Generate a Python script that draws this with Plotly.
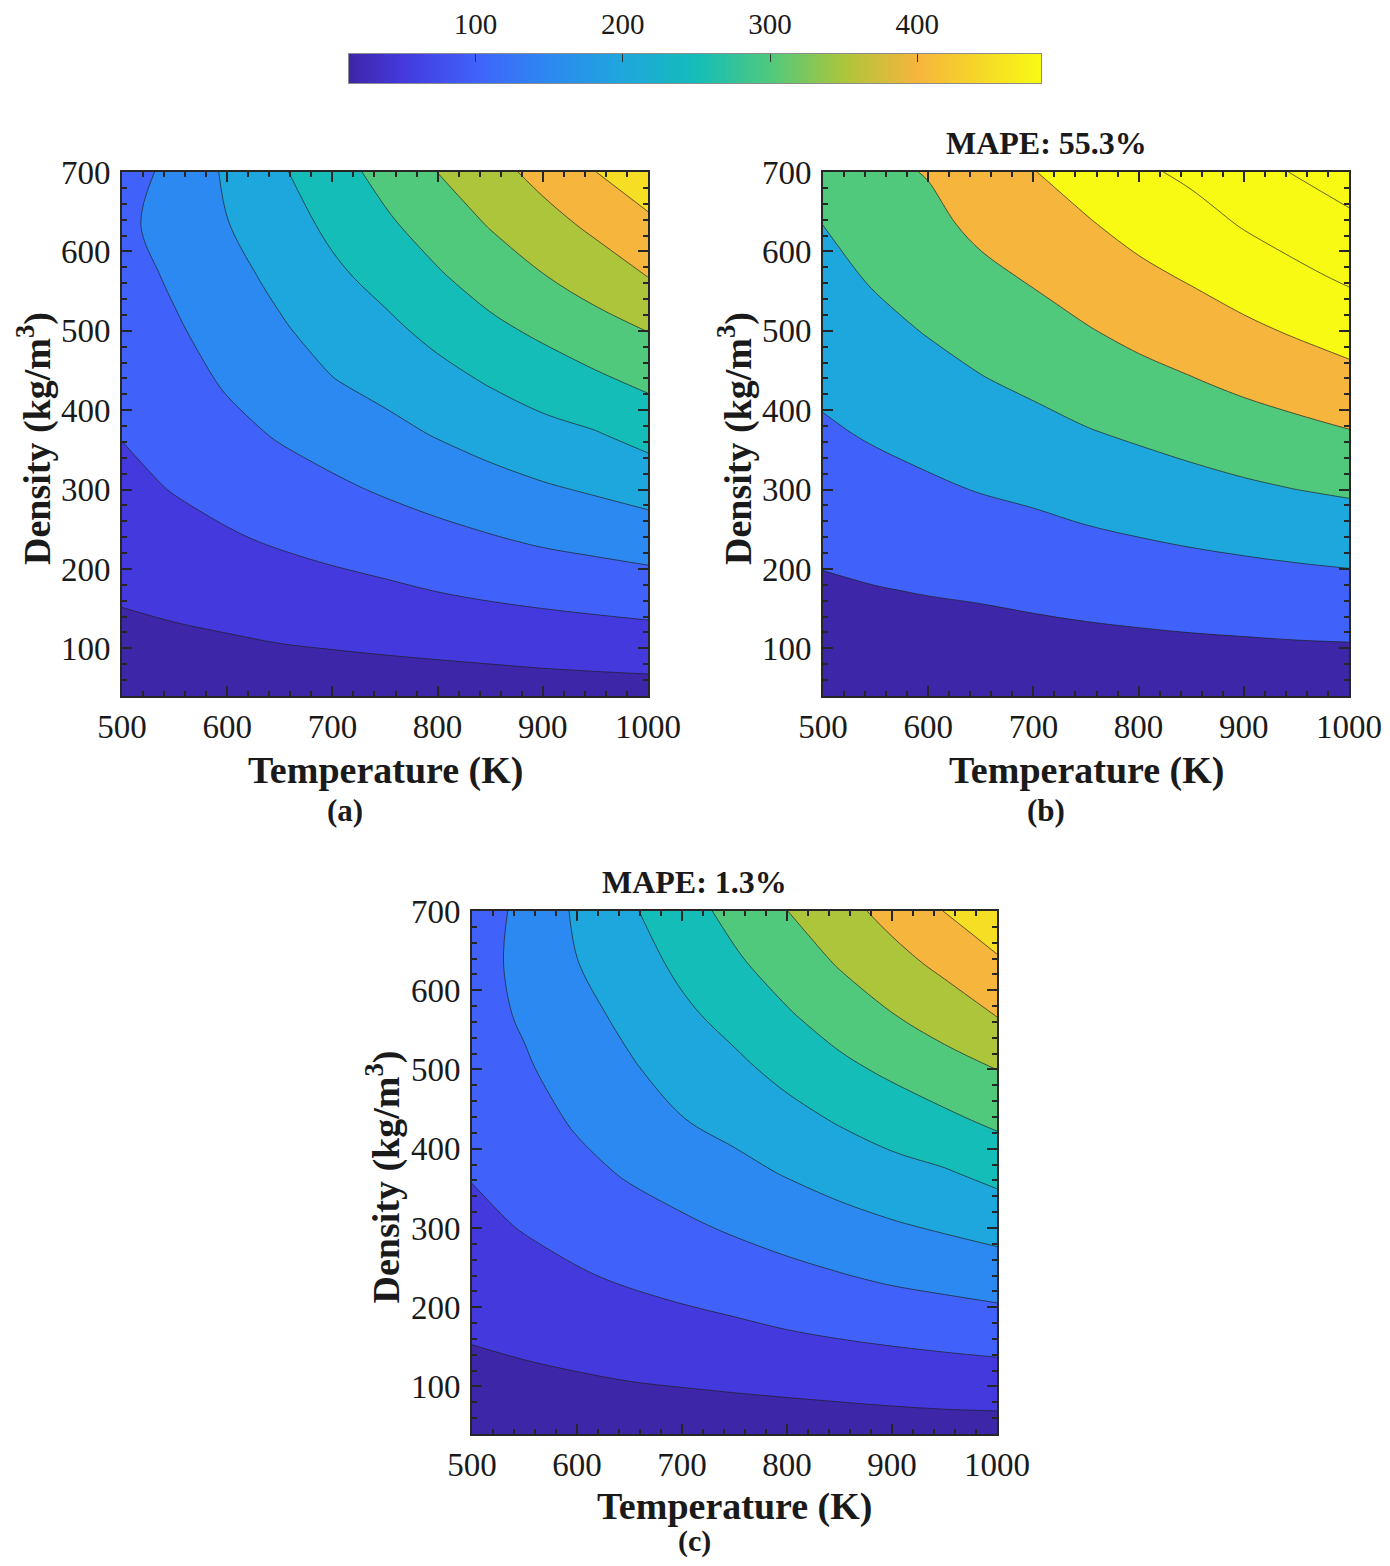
import plotly.graph_objects as go

# ---------------- data ----------------
T = [500, 550, 600, 650, 700, 750, 800, 850, 900, 950, 1000]          # K
RHO = [40, 106, 172, 238, 304, 370, 436, 502, 568, 634, 700]         # kg/m3

# panel (a): rows follow RHO, columns follow T
Z_A = [
    [14, 15.3, 17, 18.9, 20.4, 22, 23.3, 24.7, 26.7, 28.2, 29.4],
    [37, 41, 45, 49.9, 53.8, 57.8, 61.8, 66.2, 70.7, 74.6, 78.4],
    [55.8, 63, 70.3, 78.2, 85.6, 92.2, 100.5, 108.1, 114.5, 120.5, 126.4],
    [71.6, 83.9, 95.1, 105.6, 115.1, 125, 136, 146.5, 157.1, 165.1, 173.9],
    [87.5, 103.2, 116.4, 130.5, 142.9, 156.8, 170.2, 183.7, 196.4, 207.7, 221.1],
    [102, 117, 136.7, 154.3, 170.4, 186.5, 203.2, 219.3, 234.9, 247, 266.4],
    [111.5, 130.9, 155.1, 174.4, 197.9, 213.8, 233.8, 253.8, 272.7, 290.7, 309.6],
    [121, 144.7, 169.6, 194.5, 219.3, 239.2, 264.2, 289.2, 310.2, 332.5, 352.2],
    [130.5, 157, 184.1, 211.7, 240.2, 265.3, 294.5, 321.9, 347.7, 372.1, 400.4],
    [140, 168, 198.7, 227.9, 260.4, 291.9, 322.5, 353.1, 382, 410.7, 440.2],
    [137, 158, 208, 244, 280, 315.5, 350.5, 382.5, 415.5, 449.5, 480.5],
]

# panel (b)
Z_B = [
    [20, 22.3, 24, 25.3, 27.4, 29.4, 31.3, 33, 34.5, 36, 37],
    [53.4, 59, 63.7, 67, 72.6, 78, 82.8, 87.6, 91.4, 95.5, 98.1],
    [86.8, 95.9, 103.6, 110.3, 120, 130.3, 139.3, 148.1, 155.4, 162.2, 168.1],
    [120.4, 134, 146.3, 158.8, 170.8, 185.7, 198.2, 210.3, 221.4, 231.9, 241.4],
    [154.1, 172.2, 189, 206.6, 220.7, 239.5, 255.2, 272, 288.8, 304.2, 317.2],
    [187.8, 209.2, 229, 250.3, 269.6, 292.7, 312.3, 333.1, 354.7, 373.7, 393.1],
    [217.6, 242.9, 268, 294, 317.6, 344.2, 370.2, 393.9, 419.6, 443.2, 468.2],
    [245.2, 276.5, 306.3, 336.5, 364.1, 395.3, 425.6, 452.4, 482.8, 512.2, 542.2],
    [272.8, 310.2, 341, 378.8, 409.9, 443.5, 478.4, 509.8, 544.9, 579.6, 613.9],
    [300.4, 343.9, 375.8, 421.2, 453.4, 491.3, 531.2, 563.9, 606.5, 643.4, 679.2],
    [328, 377.6, 405, 463.5, 497, 539, 584, 618, 668, 705.7, 744.6],
]

# panel (c)
Z_C = [
    [14, 15.5, 17.2, 19, 20.6, 22.2, 23.5, 24.9, 26.8, 28.3, 28.7],
    [36.8, 40.8, 45.2, 49.8, 53.6, 57.5, 61.5, 65.8, 70.2, 74, 77.1],
    [55.5, 62.8, 70, 78, 85.3, 92, 100.2, 107.6, 114, 120, 125.9],
    [71.8, 84, 95.3, 105.8, 115.4, 125.3, 136.2, 146.6, 157, 165, 173.4],
    [88.5, 103.5, 116.8, 131, 143.4, 157.2, 170.6, 184, 196.2, 207.2, 219],
    [103, 118, 137.5, 155, 171, 187, 203.5, 219.5, 234.5, 246, 264],
    [113, 131.5, 155.5, 175, 198.4, 214.3, 234.2, 254, 272.4, 290, 309.5],
    [122.5, 145, 170, 195, 219.8, 239.8, 264.6, 289.4, 310.3, 332, 351.5],
    [131.5, 155.5, 184.2, 212, 240.5, 265.8, 295, 322.3, 348, 372, 401.3],
    [135, 160, 199, 228.2, 260.6, 292.3, 323, 353.8, 383, 412, 442.3],
    [133, 158, 207.5, 243.5, 279.5, 315, 349.5, 382.5, 416, 451, 486],
]

LEVELS_AC = [50, 450, 50]      # start, end, step
LEVELS_B = [100, 700, 100]

# fill colour of each band (below first level, then one per level)
BANDS_AC = ["#3e26a8", "#4439dd", "#4062fa", "#2c89f1", "#1ea7dc",
            "#14bdb8", "#50c97d", "#adc53b", "#f6b53c", "#f5de23"]
BANDS_B = ["#3e26a8", "#4062fa", "#1ea7dc", "#50c97d", "#f6b53c",
           "#f9fa14", "#f9fa14", "#f9fa14"]

CB_RANGE = [14, 484]
CB_VALUES = [14, 50, 100, 150, 200, 250, 300, 350, 400, 450, 484]
CB_COLORS = ["#3e26a8", "#4439dd", "#4062fa", "#2c89f1", "#1ea7dc",
             "#14bdb8", "#50c97d", "#adc53b", "#f6b53c", "#f5de23", "#f9fa14"]
CB_TICKS = [100, 200, 300, 400]

X_TICKS = [500, 600, 700, 800, 900, 1000]
Y_TICKS = [100, 200, 300, 400, 500, 600, 700]
X_RANGE = [500, 1000]
Y_RANGE = [40, 700]

TITLES = {"b": "MAPE: 55.3%", "c": "MAPE: 1.3%"}

# ---------------- figure ----------------
# the page body adds an 8 px margin, so the figure is 16 px smaller
PAGE_MARGIN = 8
W, H = 1390 - 2 * PAGE_MARGIN, 1566 - 2 * PAGE_MARGIN
SERIF = "Liberation Serif"
DARK = "#262626"


def px(x):
    return (x - PAGE_MARGIN) / W


def py(y):
    return 1 - (y - PAGE_MARGIN) / H


def stepped(colors):
    n = len(colors) - 1
    return [[i / n, c] for i, c in enumerate(colors)]


def contour(z, lv, bands, xa, ya):
    return go.Contour(
        x=T, y=RHO, z=z, xaxis=xa, yaxis=ya,
        contours=dict(start=lv[0], end=lv[1], size=lv[2], coloring="fill"),
        colorscale=stepped(bands), showscale=False,
        line=dict(color="rgba(30,30,30,0.85)", width=0.8, smoothing=1),
        hoverinfo="skip",
    )


fig = go.Figure()
fig.add_trace(contour(Z_A, LEVELS_AC, BANDS_AC, "x", "y"))
fig.add_trace(contour(Z_B, LEVELS_B, BANDS_B, "x2", "y2"))
fig.add_trace(contour(Z_C, LEVELS_AC, BANDS_AC, "x3", "y3"))

# colour bar drawn as a smooth heatmap strip on its own axis
cb_scale = [[(v - CB_RANGE[0]) / (CB_RANGE[1] - CB_RANGE[0]), c]
            for v, c in zip(CB_VALUES, CB_COLORS)]
fig.add_trace(go.Heatmap(
    x=CB_RANGE, y=[0, 1], z=[CB_RANGE, CB_RANGE], zsmooth="best",
    colorscale=cb_scale, zmin=CB_RANGE[0], zmax=CB_RANGE[1],
    showscale=False, xaxis="x4", yaxis="y4", hoverinfo="skip",
))


def axis(domain, anchor, rng, tickvals, standoff):
    return dict(
        domain=domain, anchor=anchor, range=rng, automargin=False,
        tickmode="array", tickvals=tickvals,
        ticks="inside", ticklen=10, tickwidth=2, tickcolor=DARK,
        minor=dict(tickmode="linear", tick0=0, dtick=20, ticks="inside",
                   ticklen=5, tickwidth=1.5, tickcolor=DARK, showgrid=False),
        showline=True, linewidth=2, linecolor=DARK, mirror="ticks",
        showgrid=False, zeroline=False,
        tickfont=dict(family=SERIF, size=33, color="#1a1a1a"),
        ticklabelstandoff=standoff, ticklabeloverflow="allow",
    )


panels = {
    "a": dict(x=(122, 648), y=(172, 696)),
    "b": dict(x=(823, 1349), y=(172, 696)),
    "c": dict(x=(472, 997), y=(911, 1434)),
}
layout_axes = {}
for i, key in enumerate(["a", "b", "c"], start=1):
    p = panels[key]
    sx = "" if i == 1 else str(i)
    layout_axes["xaxis" + sx] = axis([px(p["x"][0]), px(p["x"][1])], "y" + sx,
                                     X_RANGE, X_TICKS, 0)
    layout_axes["yaxis" + sx] = axis([py(p["y"][1]), py(p["y"][0])], "x" + sx,
                                     Y_RANGE, Y_TICKS, 3)

layout_axes["xaxis4"] = dict(
    domain=[px(349), px(1041)], anchor="y4", range=CB_RANGE, side="top",
    automargin=False,
    tickmode="array", tickvals=CB_TICKS, ticks="inside", ticklen=8,
    tickwidth=1.2, tickcolor="#333", showline=True, linewidth=1,
    linecolor="#8c8c8c", mirror=True, showgrid=False, zeroline=False,
    tickfont=dict(family=SERIF, size=29, color="#1a1a1a"),
    ticklabelstandoff=7,
)
layout_axes["yaxis4"] = dict(
    domain=[py(83), py(54)], anchor="x4", range=[0, 1], automargin=False,
    showticklabels=False, ticks="", showline=True, linewidth=1,
    linecolor="#8c8c8c", mirror=True, showgrid=False, zeroline=False,
)

ann = []
bold = dict(family=SERIF, color="#1a1a1a")
label_y = {"a": 810, "b": 810, "c": 1541}
label_size = {"a": 31, "b": 31, "c": 30}
xtitle_y = {"a": 770, "b": 770, "c": 1506}
for key in ["a", "b", "c"]:
    p = panels[key]
    cx = (p["x"][0] + p["x"][1]) / 2
    top, bot = p["y"]
    ann.append(dict(text="<b>Temperature (K)</b>", x=px(cx), y=py(xtitle_y[key]),
                    xref="paper", yref="paper", showarrow=False,
                    xanchor="center", yanchor="middle",
                    font=dict(size=38, **bold)))
    ann.append(dict(text="<b>Density (kg/m<sup>3</sup>)</b>",
                    x=px(p["x"][0] - 88), y=py((top + bot) / 2 + 5),
                    xref="paper", yref="paper", showarrow=False,
                    textangle=-90, xanchor="center", yanchor="middle",
                    font=dict(size=38, **bold)))
    ann.append(dict(text="<b>(%s)</b>" % key, x=px(cx - 40), y=py(label_y[key]),
                    xref="paper", yref="paper", showarrow=False,
                    xanchor="center", yanchor="middle",
                    font=dict(size=label_size[key], **bold)))
    if key in TITLES:
        ann.append(dict(text="<b>%s</b>" % TITLES[key], x=px(cx - 40),
                        y=py(top - 29), xref="paper", yref="paper",
                        showarrow=False, xanchor="center", yanchor="middle",
                        font=dict(size=32, **bold)))

fig.update_layout(
    width=W, height=H, margin=dict(l=0, r=0, t=0, b=0, autoexpand=False),
    paper_bgcolor="white", plot_bgcolor="white",
    showlegend=False, annotations=ann, **layout_axes,
)

fig.write_html("out.html")
